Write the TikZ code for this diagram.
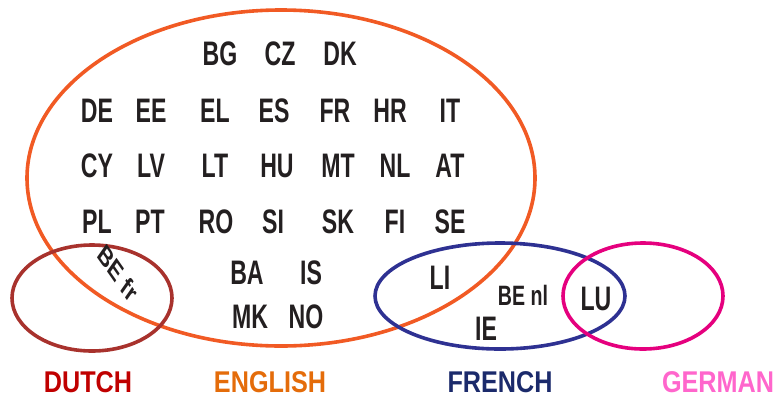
\documentclass[tikz,border=0pt]{standalone}
\usepackage{fontspec}
\setmainfont{Liberation Sans}
\usepackage{tikz}
\definecolor{engline}{HTML}{F15A24}
\definecolor{dutline}{HTML}{A8322D}
\definecolor{freline}{HTML}{2E3192}
\definecolor{gerline}{HTML}{E5007E}
\definecolor{dutlab}{HTML}{C00000}
\definecolor{englab}{HTML}{E46C0A}
\definecolor{frelab}{HTML}{1B2A6B}
\definecolor{gerlab}{HTML}{FF66CC}
\definecolor{codetext}{HTML}{231F20}
\tikzset{
  code/.style={text=codetext, font=\bfseries\fontsize{34}{34}\selectfont, xscale=0.68, inner sep=0pt, text height=24pt, text depth=0pt},
  smallcode/.style={text=codetext, font=\bfseries\fontsize{28}{28}\selectfont, xscale=0.7, inner sep=0pt, text height=20pt, text depth=0pt},
  lang/.style={font=\bfseries\fontsize{30}{30}\selectfont, xscale=0.84, inner sep=0pt, text height=21pt, text depth=0pt},
  ring/.style={line width=3.6pt}
}

\begin{document}
\begin{tikzpicture}[x=1pt,y=-1pt]
\useasboundingbox (0,0) rectangle (776,397);
\draw[ring, engline] (281,178) ellipse [x radius=254pt, y radius=168pt];
\draw[ring, dutline] (92,298) ellipse [x radius=80pt, y radius=53pt];
\draw[ring, freline] (500,296) ellipse [x radius=125pt, y radius=53pt];
\draw[ring, gerline] (643,296) ellipse [x radius=80pt, y radius=53pt];
% English
\node[code] (bg) at (220,53) {BG};
\node[code] (cz) at (280,53) {CZ};
\node[code] (dk) at (340,53) {DK};
\node[code] (de) at (97,110) {DE};
\node[code] (ee) at (151,110) {EE};
\node[code] (el) at (215,110) {EL};
\node[code] (es) at (274,110) {ES};
\node[code] (fr) at (335,110) {FR};
\node[code] (hr) at (390,110) {HR};
\node[code] (it) at (450,110) {IT};
\node[code] (cy) at (97,165) {CY};
\node[code] (lv) at (151,165) {LV};
\node[code] (lt) at (215,165) {LT};
\node[code] (hu) at (277,165) {HU};
\node[code] (mt) at (338,165) {MT};
\node[code] (nl) at (395,165) {NL};
\node[code] (at) at (450,165) {AT};
\node[code] (pl) at (97,221) {PL};
\node[code] (pt) at (150,221) {PT};
\node[code] (ro) at (216,221) {RO};
\node[code] (si) at (273,221) {SI};
\node[code] (sk) at (338,221) {SK};
\node[code] (fi) at (395,221) {FI};
\node[code] (se) at (450,221) {SE};
\node[code] (ba) at (247,272) {BA};
\node[code] (is) at (311,272) {IS};
\node[code] (mk) at (250,316) {MK};
\node[code] (no) at (306,316) {NO};
\node[smallcode, rotate=-45] (befr) at (118,273) {BE fr};
% French / German
\node[code] (li) at (440,277) {LI};
\node[smallcode] (benl) at (523,295) {BE nl};
\node[code] (ie) at (486,328) {IE};
\node[code] (lu) at (596,298) {LU};
% languages
\node[lang, dutlab] (dutch) at (88,382) {DUTCH};
\node[lang, englab] (english) at (270,382) {ENGLISH};
\node[lang, frelab] (french) at (500,382) {FRENCH};
\node[lang, gerlab] (german) at (718,382) {GERMAN};
\end{tikzpicture}
\end{document}
